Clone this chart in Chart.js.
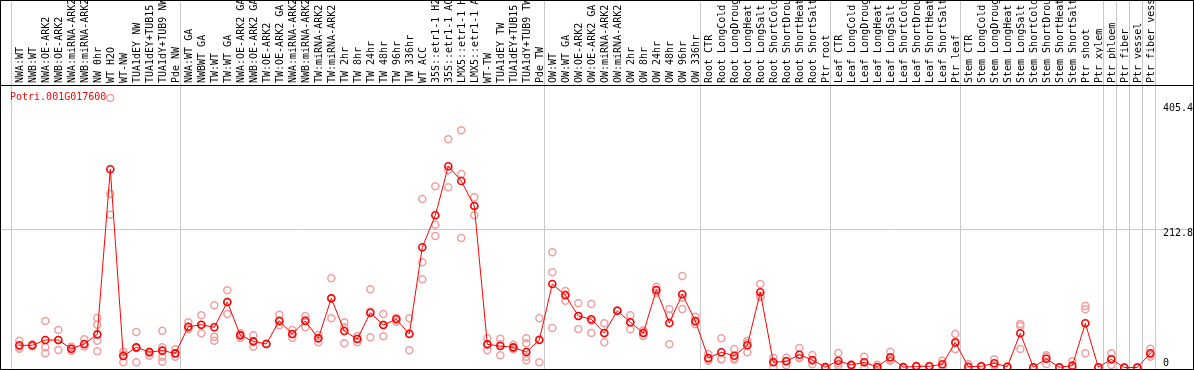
<!DOCTYPE html>
<html>
<head>
<meta charset="utf-8">
<script src="https://cdn.jsdelivr.net/npm/chart.js@4"></script>
<style>
  html, body { margin: 0; padding: 0; background: #fff; }
  #exprChart { display: block; }
</style>
</head>
<body>
<canvas id="exprChart" width="1194" height="370"></canvas>
<script>
// gene shown in this panel
const geneName = 'Potri.001G017600';

// sample names, in drawing order
const sampleLabels = [
  'NWA:WT', 'NWB:WT', 'NWA:OE-ARK2', 'NWB:OE-ARK2', 'NWA:miRNA-ARK2', 'NWB:miRNA-ARK2',
  'NW 0hr', 'WT H2O', 'WT-NW', 'TUA1dEY NW', 'TUA1dEY+TUB15 NW', 'TUA1dY+TUB9 NW', 'Pde NW',
  'NWA:WT GA', 'NWBWT GA', 'TW:WT', 'TW:WT GA', 'NWA:OE-ARK2 GA', 'NWB:OE-ARK2 GA',
  'TW:OE-ARK2', 'TW:OE-ARK2 GA', 'NWA:miRNA-ARK2 GA', 'NWB:miRNA-ARK2 GA', 'TW:miRNA-ARK2',
  'TW:miRNA-ARK2 GA', 'TW 2hr', 'TW 8hr', 'TW 24hr', 'TW 48hr', 'TW 96hr', 'TW 336hr',
  'WT ACC', '35S::etr1-1 H2O', '35S::etr1-1 ACC', 'LMX5::etr1-1 H2O', 'LMX5::etr1-1 ACC',
  'WT-TW', 'TUA1dEY TW', 'TUA1dEY+TUB15 TW', 'TUA1dY+TUB9 TW', 'Pde TW',
  'OW:WT', 'OW:WT GA', 'OW:OE-ARK2', 'OW:OE-ARK2 GA', 'OW:miRNA-ARK2', 'OW:miRNA-ARK2 GA',
  'OW 2hr', 'OW 8hr', 'OW 24hr', 'OW 48hr', 'OW 96hr', 'OW 336hr',
  'Root CTR', 'Root LongCold', 'Root LongDrought', 'Root LongHeat', 'Root LongSalt',
  'Root ShortCold', 'Root ShortDrought', 'Root ShortHeat', 'Root ShortSalt', 'Ptr root',
  'Leaf CTR', 'Leaf LongCold', 'Leaf LongDrought', 'Leaf LongHeat', 'Leaf LongSalt',
  'Leaf ShortCold', 'Leaf ShortDrought', 'Leaf ShortHeat', 'Leaf ShortSalt', 'Ptr leaf',
  'Stem CTR', 'Stem LongCold', 'Stem LongDrought', 'Stem LongHeat', 'Stem LongSalt',
  'Stem ShortCold', 'Stem ShortDrought', 'Stem ShortHeat', 'Stem ShortSalt', 'Ptr shoot', 'Ptr xylem',
  'Ptr phloem', 'Ptr fiber', 'Ptr vessel', 'Ptr fiber vessel'
];

// how many samples sit in each experiment block (separated by grey lines)
const groupSizes = [13, 28, 12, 10, 10, 11, 1, 1, 1, 1];

// mean expression per sample
const meanValues = [
  34.0, 34.0, 42.1, 42.1, 28.8, 36.0, 50.8, 303.7, 17.6, 30.9, 23.7, 25.8, 21.7,
  62.5, 65.6, 61.6, 100.4, 49.3, 40.1, 36.0, 71.7, 51.3, 71.3, 44.7, 106.0, 55.9,
  43.7, 84.0, 65.1, 73.9, 51.3, 184.2, 233.2, 308.3, 285.8, 247.5, 35.5, 32.9, 30.9,
  23.7, 42.1,
  127.9, 110.6, 78.9, 73.9, 52.9, 87.0, 69.3, 52.9, 118.8, 68.2, 112.2, 71.3,
  14.6, 23.3, 18.1, 34.0, 115.2, 8.0, 9.5, 19.6, 11.5, 0.5,
  10.4, 3.8, 8.0, 0.8, 15.6, 0.5, 1.8, 1.8, 4.9, 38.6,
  1.2, 1.8, 6.4, 1.2, 52.4, 0.3, 13.5, 0.3, 2.8, 67.7, 0.3,
  12.6, 0, 0, 21.8
];

// individual replicates per sample
const replicateValues = [
  [41.1, 28.8, 32.1], [35.5, 32.5], [71.3, 30.9, 21.7], [57.5, 26.8, 42.0], [31.9, 25.8, 28.8],
  [43.2, 32.9, 32.0], [75.9, 65.6, 41.1, 24.8], [413.0, 265.9, 234.1], [24.2, 8.0, 20.0],
  [54.4, 8.0, 30.0], [21.7, 18.1, 24.0], [56.4, 30.9, 16.5, 8.9, 25.8], [27.9, 16.5, 21.7],
  [69.3, 58.5, 60.0], [80.0, 52.4, 65.0], [95.3, 47.2, 41.1], [118.3, 82.0, 100.0],
  [52.4, 45.2, 50.0], [49.3, 31.9, 39.0], [36.0, 36.5], [80.9, 64.7, 70.0], [57.5, 45.2, 51.0],
  [78.9, 61.6, 73.0], [49.8, 38.6, 45.0], [136.7, 75.4, 106.0], [69.3, 61.6, 37.1],
  [48.3, 38.6, 44.0], [119.8, 46.3, 86.0], [82.0, 47.8, 65.5], [75.9, 70.2, 75.0],
  [75.4, 26.4, 52.0], [258.2, 161.2, 135.1], [277.7, 218.8, 201.5], [349.7, 276.1, 302.6],
  [363.5, 296.5, 198.4], [260.8, 233.2, 248.0], [44.7, 26.4, 35.5], [44.1, 18.7, 35.9],
  [34.9, 27.9, 30.0], [44.7, 37.1, 16.5, 11.0], [75.4, 8.0, 42.9],
  [176.5, 145.9, 60.5], [117.2, 102.4, 112.0], [98.4, 59.0, 79.0], [97.3, 52.9, 71.5],
  [67.7, 38.6, 52.5], [87.0, 87.5], [80.0, 58.5, 69.5], [48.3, 53.5, 57.0],
  [123.8, 118.0, 114.5], [89.6, 35.5, 79.5], [140.2, 89.6, 107.0], [77.8, 66.2, 70.0],
  [20.7, 10.4, 12.7], [44.7, 12.6, 12.8], [28.3, 14.1, 12.0], [41.1, 23.3, 37.6],
  [127.9, 110.0, 107.7], [15.0, 0.0, 9.0], [15.0, 3.4, 10.1], [29.9, 15.0, 14.0],
  [19.2, 4.9, 10.4], [0.5, 0.5],
  [22.2, 2.8, 6.2], [5.0, 2.6], [16.5, 0.0, 7.5], [4.3, 0.0, 0.0], [24.2, 10.4, 12.2],
  [0.5, 0.3], [2.5, 1.2], [2.3, 1.3], [10.4, 2.0, 2.3], [51.3, 27.9, 36.6],
  [5.4, 0.0], [2.4, 1.2], [12.6, 3.5, 3.1], [1.5, 0.9], [66.7, 63.6, 28.3], [0.5, 0.2],
  [16.5, 5.4, 18.6], [0.5, 0.2], [9.5, 0.0], [94.2, 89.2, 21.8], [0.5, 0.2],
  [21.8, 3.8, 12.2], [0, 0], [0, 0], [28.8, 16.5, 20.1]
];

// values printed on the right hand side
const yTickValues = [0, 212.8, 405.4];

// build point lists for the library
const meanPoints = meanValues.map((v, i) => ({ x: i, y: v }));
const replicatePoints = [];
replicateValues.forEach((reps, i) => {
  reps.forEach(v => replicatePoints.push({ x: i, y: v }));
});

// grey separators, grid line, black frame, right labels and gene name
const decorPlugin = {
  id: 'decor',
  beforeDatasetsDraw(chart) {
    const { ctx, chartArea, scales } = chart;
    const xs = scales.x, ys = scales.y;
    ctx.save();
    ctx.lineWidth = 1;

    // horizontal grid line at middle tick
    ctx.strokeStyle = '#c8c8c8';
    const gy = Math.round(ys.getPixelForValue(yTickValues[1])) + 0.5;
    ctx.beginPath();
    ctx.moveTo(0, gy);
    ctx.lineTo(chart.width, gy);
    ctx.stroke();

    // block separators (run through label area too)
    let cum = 0;
    const bounds = [0];
    groupSizes.forEach(n => { cum += n; bounds.push(cum); });
    bounds.forEach(b => {
      const px = Math.round(xs.getPixelForValue(b - 0.65)) + 0.5;
      ctx.beginPath();
      ctx.moveTo(px, 0);
      ctx.lineTo(px, chartArea.bottom);
      ctx.stroke();
    });

    // black frame
    ctx.strokeStyle = '#000';
    ctx.strokeRect(0.5, 0.5, chart.width - 1, chartArea.bottom);
    ctx.beginPath();
    ctx.moveTo(0, chartArea.top + 0.5);
    ctx.lineTo(chart.width, chartArea.top + 0.5);
    ctx.stroke();
    ctx.restore();
  },
  afterDraw(chart) {
    const { ctx, chartArea, scales } = chart;
    const ys = scales.y;
    ctx.save();
    ctx.font = '10px "DejaVu Sans Mono"';
    ctx.fillStyle = '#000';
    ctx.textAlign = 'left';
    yTickValues.forEach(v => {
      const py = ys.getPixelForValue(v);
      if (v === 0) {
        ctx.textBaseline = 'alphabetic';
        ctx.fillText(String(v), 1163, py - 1);
      } else {
        ctx.textBaseline = 'top';
        ctx.fillText(v.toFixed(1), 1163, py);
      }
    });
    ctx.fillStyle = '#ff0000';
    ctx.textBaseline = 'middle';
    ctx.fillText(geneName, 10, chartArea.top + 12);
    ctx.restore();
  }
};

const ctx = document.getElementById('exprChart');
new Chart(ctx, {
  type: 'line',
  data: {
    datasets: [
      {
        type: 'scatter',
        label: 'replicates',
        data: replicatePoints,
        showLine: false,
        pointStyle: 'circle',
        pointRadius: 3.5,
        pointBorderWidth: 1.5,
        pointBorderColor: '#f0a0a0',
        pointBackgroundColor: 'rgba(0,0,0,0)',
        order: 2
      },
      {
        label: geneName,
        data: meanPoints,
        borderColor: '#ff0000',
        borderWidth: 1,
        pointStyle: 'circle',
        pointRadius: 3.5,
        pointBorderWidth: 1.6,
        pointBorderColor: '#ff0000',
        pointBackgroundColor: 'rgba(0,0,0,0)',
        tension: 0,
        order: 1
      }
    ]
  },
  options: {
    responsive: false,
    animation: false,
    devicePixelRatio: 1,
    layout: {
      autoPadding: false,
      padding: { top: 0, right: 0, bottom: 1, left: 0 }
    },
    plugins: {
      legend: { display: false },
      tooltip: { enabled: false }
    },
    scales: {
      x: {
        type: 'linear',
        position: 'top',
        min: -1.485,
        max: 90.36,
        afterBuildTicks: (scale) => {
          scale.ticks = sampleLabels.map((_, i) => ({ value: i }));
        },
        afterFit: (scale) => {
          scale.height = 85;
          // keep the plot flush with the canvas edges
          scale.paddingLeft = 0;
          scale.paddingRight = 0;
        },
        grid: { display: false, drawTicks: false },
        border: { display: false },
        ticks: {
          autoSkip: false,
          minRotation: 90,
          maxRotation: 90,
          padding: 2,
          labelOffset: 13,
          color: '#000',
          font: { family: "'DejaVu Sans Mono', monospace", size: 10 },
          callback: (value) => sampleLabels[value] ?? ''
        }
      },
      y: {
        display: false,
        min: -2.3,
        max: 432.9
      }
    }
  },
  plugins: [decorPlugin]
});
</script>
</body>
</html>
